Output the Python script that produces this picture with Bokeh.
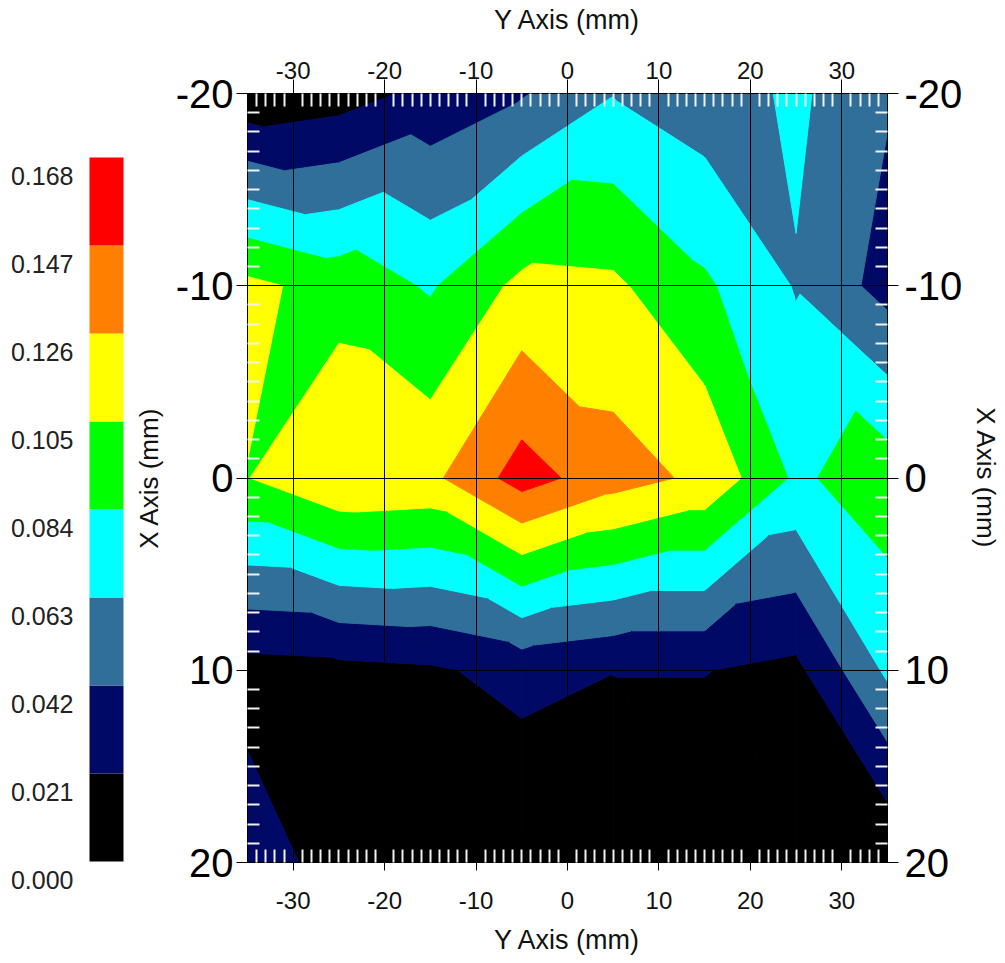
import math
from bokeh.plotting import figure
from bokeh.models import Range1d, LinearAxis, FixedTicker, ColumnDataSource
from bokeh.layouts import row
from bokeh.embed import file_html
from bokeh.resources import INLINE
from bokeh.core.properties import value

# ---------------- data ----------------
# horizontal coordinate ("Y Axis (mm)") of the measurement columns
col_pos = [-35, -25, -15, -5, 5, 15, 25, 35]
# vertical coordinate ("X Axis (mm)") of the measurement rows
row_pos = [-20, -10, 0, 10, 20]

z_row_m20 = [0.0050, 0.0110, 0.0270, 0.0400, 0.0620, 0.0510, 0.0670, 0.0440]
z_row_m10 = [0.1100, 0.0970, 0.0816, 0.1107, 0.1087, 0.0873, 0.0615, 0.0340]
z_row_0 = [0.1045, 0.1237, 0.1210, 0.1560, 0.1350, 0.1215, 0.0803, 0.0960]
z_row_p10 = [0.0127, 0.0150, 0.0180, 0.0280, 0.0215, 0.0215, 0.0158, 0.0670]
z_row_p20 = [0.0325, 0.0120, 0.0100, 0.0000, 0.0050, 0.0080, 0.0040, 0.0000]

levels = [0.000, 0.021, 0.042, 0.063, 0.084, 0.105, 0.126, 0.147, 0.168]
level_labels = ["0.000", "0.021", "0.042", "0.063", "0.084", "0.105", "0.126", "0.147", "0.168"]
palette = ["#000000", "#000A66", "#306F99", "#00FFFF", "#00FF00", "#FFFF00", "#FF8000", "#FF0000"]

h_ticks = [-30, -20, -10, 0, 10, 20, 30]
h_tick_labels = ["-30", "-20", "-10", "0", "10", "20", "30"]
v_ticks = [-20, -10, 0, 10, 20]
v_tick_labels = ["-20", "-10", "0", "10", "20"]

FONT = "Liberation Sans"

# ---------------- filled contours on a triangulated grid ----------------
Z = [z_row_m20, z_row_m10, z_row_0, z_row_p10, z_row_p20]


def clip(poly, lvl, keep_above):
    out = []
    n = len(poly)
    for k in range(n):
        P = poly[k]
        Q = poly[(k + 1) % n]
        pin = P[2] >= lvl if keep_above else P[2] <= lvl
        qin = Q[2] >= lvl if keep_above else Q[2] <= lvl
        if pin:
            out.append(P)
        if pin != qin:
            t = (lvl - P[2]) / (Q[2] - P[2])
            out.append((P[0] + t * (Q[0] - P[0]), P[1] + t * (Q[1] - P[1]), lvl))
    return out


def area(poly):
    a = 0.0
    for k in range(len(poly)):
        x1, y1 = poly[k][0], poly[k][1]
        x2, y2 = poly[(k + 1) % len(poly)][0], poly[(k + 1) % len(poly)][1]
        a += x1 * y2 - x2 * y1
    return abs(a) / 2


nb = len(levels) - 1
pxs, pys, pcs = [], [], []
for j in range(len(row_pos) - 1):
    for i in range(len(col_pos) - 1):
        TL = (col_pos[i], row_pos[j], Z[j][i])
        TR = (col_pos[i + 1], row_pos[j], Z[j][i + 1])
        BL = (col_pos[i], row_pos[j + 1], Z[j + 1][i])
        BR = (col_pos[i + 1], row_pos[j + 1], Z[j + 1][i + 1])
        if abs(TL[2] - BR[2]) <= abs(TR[2] - BL[2]):
            tris = [(TL, TR, BR), (TL, BR, BL)]
        else:
            tris = [(TL, TR, BL), (TR, BR, BL)]
        for tri in tris:
            for k in range(nb):
                poly = list(tri)
                if k > 0:
                    poly = clip(poly, levels[k], True)
                if k < nb - 1 and len(poly) >= 3:
                    poly = clip(poly, levels[k + 1], False)
                if len(poly) >= 3 and area(poly) > 1e-9:
                    pxs.append([v[0] for v in poly])
                    pys.append([v[1] for v in poly])
                    pcs.append(palette[k])

src = ColumnDataSource(dict(xs=pxs, ys=pys, c=pcs))

# ---------------- layout numbers (page pixels) ----------------
PAGE_W, PAGE_H = 1005, 963
CB_W = 130
FRAME_L, FRAME_R, FRAME_T, FRAME_B = 246, 887, 93, 862
MAIN_W = PAGE_W - CB_W

# ---------------- main plot ----------------
p = figure(width=MAIN_W, height=PAGE_H,
           x_range=Range1d(col_pos[0], col_pos[-1]),
           y_range=Range1d(row_pos[-1], row_pos[0]),
           output_backend="svg", toolbar_location=None,
           min_border_left=FRAME_L - CB_W, min_border_right=PAGE_W - FRAME_R,
           min_border_top=FRAME_T, min_border_bottom=PAGE_H - FRAME_B,
           background_fill_color="white", border_fill_color="white")
p.frame_align = False
p.outline_line_color = "black"
p.outline_line_width = 1

p.patches("xs", "ys", source=src, fill_color="c", line_color="c", line_width=1)

top_axis = LinearAxis()
p.add_layout(top_axis, "above")
right_axis = LinearAxis()
p.add_layout(right_axis, "right")

h_minor = [v for v in range(col_pos[0] + 1, col_pos[-1]) if v % 10 != 0]
v_minor = [v for v in range(row_pos[0] + 1, row_pos[-1]) if v % 10 != 0]

for ax in p.xaxis:
    ax.ticker = FixedTicker(ticks=h_ticks, minor_ticks=h_minor)
    ax.major_label_overrides = {t: l for t, l in zip(h_ticks, h_tick_labels)}
    ax.major_label_text_font = FONT
    ax.major_label_text_font_size = "24px"
    ax.major_label_text_color = "#111111"
    ax.major_tick_in = 0
    ax.major_tick_line_color = "black"
    ax.minor_tick_in = 13
    ax.minor_tick_out = 0
    ax.minor_tick_line_color = "#f2f2f2"
    ax.minor_tick_line_width = 2
    ax.axis_line_color = "black"
    ax.axis_label = "Y Axis (mm)"
    ax.axis_label_text_font = FONT
    ax.axis_label_text_font_size = "27px"
    ax.axis_label_text_font_style = "normal"
    ax.axis_label_text_color = "#111111"

# bottom
p.below[0].major_tick_out = 8
p.below[0].major_label_standoff = 21
p.below[0].axis_label_standoff = 13
# top
top_axis.major_tick_out = 14
top_axis.major_label_standoff = 1
top_axis.axis_label_standoff = 24

for ax in p.yaxis:
    ax.ticker = FixedTicker(ticks=v_ticks, minor_ticks=v_minor)
    ax.major_label_overrides = {t: l for t, l in zip(v_ticks, v_tick_labels)}
    ax.major_label_text_font = FONT
    ax.major_label_text_font_size = "40px"
    ax.major_label_text_color = "#000000"
    ax.major_tick_out = 11
    ax.major_tick_in = 0
    ax.major_tick_line_color = "black"
    ax.minor_tick_in = 12
    ax.minor_tick_out = 0
    ax.minor_tick_line_color = "#f2f2f2"
    ax.minor_tick_line_width = 2
    ax.axis_line_color = "black"
    ax.axis_label = "X Axis (mm)"
    ax.axis_label_text_font = FONT
    ax.axis_label_text_font_size = "26px"
    ax.axis_label_text_font_style = "normal"
    ax.axis_label_text_color = "#111111"

p.left[0].major_label_standoff = 3
p.left[0].axis_label_standoff = 9
right_axis.major_label_standoff = 6
right_axis.axis_label_standoff = 6

p.xgrid.ticker = FixedTicker(ticks=h_ticks)
p.ygrid.ticker = FixedTicker(ticks=[t for t in v_ticks if t not in (row_pos[0], row_pos[-1])])
for g in (p.xgrid, p.ygrid):
    g.grid_line_color = "black"
    g.grid_line_alpha = 1.0
    g.grid_line_width = 1
    g.level = "annotation"

# ---------------- colour bar ----------------
BAR_T, BAR_B = 157, 861
scale = (BAR_B - BAR_T) / (levels[-1] - levels[0])
cb_top = levels[-1] + BAR_T / scale
cb_bot = levels[0] - (PAGE_H - BAR_B) / scale

cb = figure(width=CB_W, height=PAGE_H, x_range=Range1d(0, CB_W), y_range=Range1d(cb_bot, cb_top),
            output_backend="svg", toolbar_location=None, min_border=0,
            x_axis_type=None, y_axis_type=None)
cb.frame_align = False
cb.outline_line_color = None
cb.grid.visible = False
cb.quad(left=89, right=123, bottom=levels[:-1], top=levels[1:], fill_color=palette, line_color=None)
cb.text(x=[73] * len(levels), y=levels, text=level_labels, text_align="right",
        text_baseline="middle", y_offset=18, text_font=value(FONT),
        text_font_size="25px", text_color="#222222")

layout = row(cb, p)
open("out.html", "w").write(file_html(layout, INLINE))
